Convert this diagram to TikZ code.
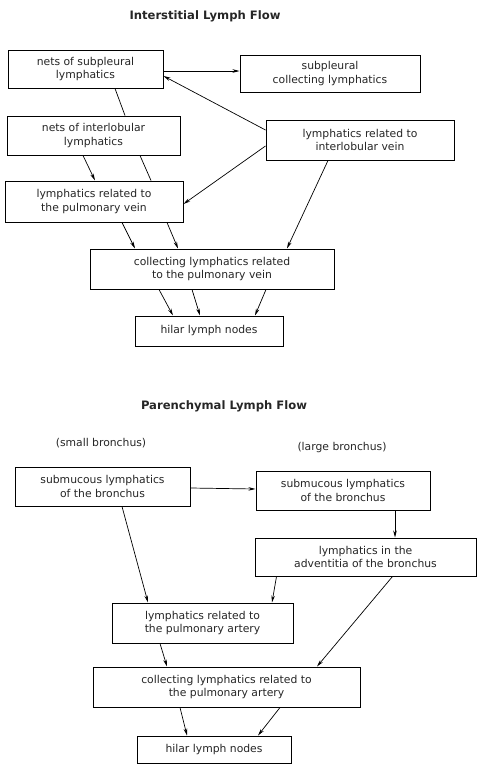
\documentclass[tikz,border=0pt]{standalone}
\usepackage{fontspec}
\setmainfont{DejaVu Sans}
\usetikzlibrary{arrows.meta}

\begin{document}
\begin{tikzpicture}[x=1pt, y=-1pt,
    every node/.style={font=\fontsize{10.8}{13.5}\selectfont, text=black!85},
    box/.style={draw, line width=1pt, fill=white, align=center, inner sep=0pt},
    ttl/.style={font=\fontsize{11.6}{13}\selectfont\bfseries},
    flow/.style={line width=0.7pt, -{Stealth[length=7pt, width=3.5pt]}},
    plain/.style={line width=0.7pt}]
            \useasboundingbox (0,0) rectangle (477,766);

            % interstitial lymph flow
            \node[ttl] (t1) at (205, 16) {Interstitial Lymph Flow};
            \node[box, minimum width=155, minimum height=38] (subpl) at (85.5, 69) {nets of subpleural\\lymphatics};
            \node[box, minimum width=180, minimum height=37] (subcol) at (330, 73.5) {subpleural\\collecting lymphatics};
            \node[box, minimum width=173, minimum height=39] (inter) at (93.5, 135.5) {nets of interlobular\\lymphatics};
            \node[box, minimum width=188, minimum height=40] (ilvein) at (360, 140) {lymphatics related to\\interlobular vein};
            \node[box, minimum width=178, minimum height=41] (pvein) at (94, 201.5) {lymphatics related to\\the pulmonary vein};
            \node[box, minimum width=244, minimum height=40] (colpv) at (212, 269) {collecting lymphatics related\\to the pulmonary vein};
            \node[box, minimum width=148, minimum height=30] (hilar1) at (209, 331) {hilar lymph nodes};

            \draw[flow] ([yshift=-2pt]subpl.east) -- ([yshift=2.5pt]subcol.west);
            \draw[flow] ([yshift=10pt]ilvein.west) -- ([yshift=-7pt]subpl.east);
            \draw[plain] ([xshift=29.5pt]subpl.south) -- ([xshift=31.5pt]inter.north);
            \draw[plain] ([xshift=46.5pt]inter.south) -- ([xshift=57pt]pvein.north);
            \draw[flow] ([xshift=-10.5pt]inter.south) -- ([xshift=1pt]pvein.north);
            \draw[flow] ([yshift=-6pt]ilvein.west) -- ([yshift=-2.5pt]pvein.east);
            \draw[flow] ([xshift=-32pt]ilvein.south) -- ([xshift=75pt]colpv.north);
            \draw[flow] ([xshift=28pt]pvein.south) -- ([xshift=-77pt]colpv.north);
            \draw[flow] ([xshift=73pt]pvein.south) -- ([xshift=-34pt]colpv.north);
            \draw[flow] ([xshift=-53pt]colpv.south) -- ([xshift=-36pt]hilar1.north);
            \draw[flow] ([xshift=-20pt]colpv.south) -- ([xshift=-9pt]hilar1.north);
            \draw[flow] ([xshift=54pt]colpv.south) -- ([xshift=46pt]hilar1.north);

            % parenchymal lymph flow
            \node[ttl] (t2) at (224, 406) {Parenchymal Lymph Flow};
            \node (small) at (101, 443) {(small bronchus)};
            \node (large) at (342, 448) {(large bronchus)};
            \node[box, minimum width=175, minimum height=39] (submucs) at (102.5, 486.5) {submucous lymphatics\\of the bronchus};
            \node[box, minimum width=174, minimum height=39] (submucl) at (343, 490.5) {submucous lymphatics\\of the bronchus};
            \node[box, minimum width=221, minimum height=38] (advent) at (365.5, 557) {lymphatics in the\\adventitia of the bronchus};
            \node[box, minimum width=181, minimum height=40] (partery) at (202.5, 623) {lymphatics related to\\the pulmonary artery};
            \node[box, minimum width=267, minimum height=40] (colpa) at (226.5, 687) {collecting lymphatics related to\\the pulmonary artery};
            \node[box, minimum width=154, minimum height=27] (hilar2) at (214, 749.5) {hilar lymph nodes};

            \draw[flow] ([yshift=-1.5pt]submucs.east) -- ([yshift=1.5pt]submucl.west);
            \draw[flow] ([xshift=52pt]submucl.south) -- ([xshift=29.5pt]advent.north);
            \draw[flow] ([xshift=19.5pt]submucs.south) -- ([xshift=-54.5pt]partery.north);
            \draw[flow] ([xshift=-89pt]advent.south) -- ([xshift=69.5pt]partery.north);
            \draw[flow] ([xshift=27pt]advent.south) -- ([xshift=90.5pt]colpa.north);
            \draw[flow] ([xshift=-42.5pt]partery.south) -- ([xshift=-59.5pt]colpa.north);
            \draw[flow] ([xshift=-46.5pt]colpa.south) -- ([xshift=-27pt]hilar2.north);
            \draw[flow] ([xshift=53.5pt]colpa.south) -- ([xshift=44pt]hilar2.north);
        \end{tikzpicture}
\end{document}
